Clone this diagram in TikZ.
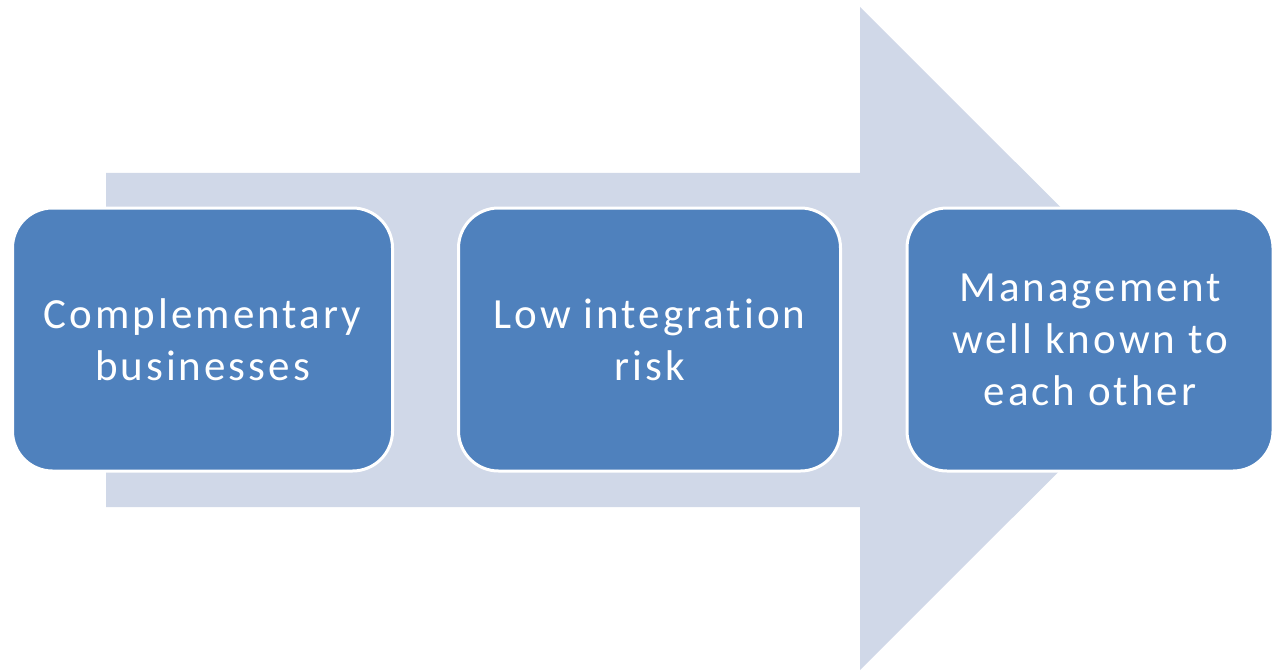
\documentclass[tikz,border=0pt]{standalone}
\usepackage{fontspec}
\setmainfont{Carlito}[LetterSpace=7, Ligatures=NoCommon]
\usepackage{tikz}
\usetikzlibrary{positioning}

\definecolor{stepblue}{HTML}{4F81BD}
\definecolor{arrowgrey}{HTML}{D0D8E8}

\tikzset{
  stepbox/.style={draw=white, line width=3pt, fill=stepblue, rounded corners=40pt,
    minimum height=263pt, text=white, align=center, font=\fontsize{43}{52}\selectfont}
}

\begin{document}
\begin{tikzpicture}[x=1pt, y=-1pt]
  \useasboundingbox (0,0) rectangle (1276,671);
  % big arrow behind the boxes
  \fill[arrowgrey] (106,173) -- (860,173) -- (860,7) -- (1192,338.5) -- (860,670)
    -- (860,507) -- (106,507) -- cycle;
  % the three steps
  \node[stepbox, minimum width=380pt] (comp) at (202.5,339.5) {Complementary\\businesses};
  \node[stepbox, minimum width=382pt] (risk) at (649.5,339.5) {Low integration\\risk};
  \node[stepbox, minimum width=366pt] (mgmt) at (1090,339.5) {Management\\well known to\\each other};
\end{tikzpicture}
\end{document}
